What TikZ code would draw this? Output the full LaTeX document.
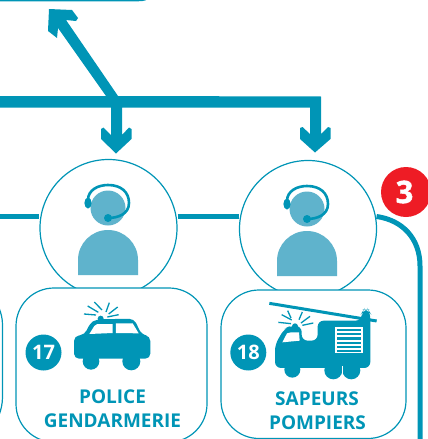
\documentclass[tikz,border=0pt]{standalone}
\usepackage{fontspec}
\setmainfont{Open Sans}
\newfontfamily\heavy[FakeBold=1.5,UprightFont=* Bold]{Open Sans}
\definecolor{teal1}{HTML}{0095B6}
\definecolor{pale}{HTML}{5FB3CC}
\definecolor{red3}{HTML}{EE1C25}
\tikzset{
  ring/.style={draw=teal1,line width=1.2pt,fill=white,circle,minimum size=137pt,inner sep=0pt},
  card/.style={draw=teal1,line width=1.2pt,rounded corners=38pt},
  wire/.style={draw=teal1,line width=5pt},
  badge/.style={circle,fill=teal1,text=white,minimum size=36pt,inner sep=0pt,font=\fontsize{20}{20}\selectfont\bfseries},
  cap3/.style={text=teal1,anchor=base,inner sep=0pt,font=\fontsize{19}{19}\selectfont\bfseries},
  ray/.style={draw=teal1,line width=1.3pt},
  head/.style={draw=teal1,line width=2.6pt,line cap=round}
}
\newcommand{\agent}[2]{%
 \begin{scope}[shift={(#1,#2)}]
  \fill[pale] (0,-20) circle (17.5);
  \fill[pale] (-30,47) -- (-30,32) arc[start angle=180,end angle=0,x radius=30,y radius=-30] -- (30,47) -- cycle;
  \draw[head] (-20,-28) .. controls (-20,-38) and (-10,-43) .. (0,-43) .. controls (13,-43) and (21,-36) .. (21,-25) .. controls (21,-14) and (10,-10) .. (0,-10);
  \fill[teal1] (-20,-25) ellipse (3.6 and 5.5);
  \fill[teal1] (0,-10) circle (4);
 \end{scope}}
\begin{document}
\begin{tikzpicture}[x=1pt,y=-1pt]
\useasboundingbox (0,0) rectangle (428,439);
% top card edge
\draw[teal1,line width=1.4pt] (0,0.6) -- (138,0.6) .. controls (141,0.6) and (144,0.3) .. (146,-0.5);
% partial card at left
\draw[teal1,line width=1.2pt] (-1,308) .. controls (1,313) and (2.5,318) .. (2.5,325) -- (2.5,397) .. controls (2.5,404) and (1,410) .. (-1,415);
% wires
\coordinate (wl) at (-2,216.5);
\node[ring] (c1) at (108.5,228) {};
\node[ring] (c2) at (308,229) {};
\draw[wire] (wl) -- (c1.west |- wl);
\draw[wire] (c1.east |- wl) -- (c2.west |- wl);
\draw[wire] (376.5,216.5) .. controls (402,220) and (420,238) .. (420,266) -- (420,441);
% arrows
\fill[teal1] (-1,96) -- (106,96) -- (58,28) -- (57,38) -- (48,31) -- (49,9) -- (72,10) -- (78,18) -- (76,21) -- (66,20) -- (118,96) -- (321,96.5) -- (321,134) -- (328,127) -- (330.5,128) -- (330.5,139) -- (315,152.5) -- (300,139) -- (300,128) -- (302.5,127) -- (310,134) -- (310,107.5) -- (122,107.5) -- (122,135) -- (129,127.5) -- (131.5,129) -- (131.5,139) -- (116,153.5) -- (101,139) -- (101,129) -- (103.5,127.5) -- (111,135) -- (111,107.5) -- (-1,107.5) -- cycle;
\agent{108}{228}
\agent{307}{229}
% cards
\node[circle,fill=red3,minimum size=50pt,inner sep=0pt] (n3) at (406,192) {};
\node[text=white,inner sep=0pt,font=\fontsize{31}{31}\selectfont\heavy] (n3t) at (404.5,192) {3};
\draw[card,fill=white] (16,288) rectangle (207,442);
\draw[card,fill=white] (221,290) rectangle (406,438.5);
\node[badge] (b17) at (43.5,352.5) {17};
\node[badge] (b18) at (248.3,352.5) {18};
\node[cap3] (t1) at (112.5,403) {POLICE};
\node[cap3] (t2) at (112.5,427) {GENDARMERIE};
\node[cap3] (t3) at (317,405) {SAPEURS};
\node[cap3] (t4) at (317.5,429) {POMPIERS};
% car
\begin{scope}[shift={(70,298)},x=0.3333pt,y=-0.3333pt]
 \fill[teal1,rounded corners=5pt] (12,114) -- (45,110) -- (58,78) -- (78,64) -- (192,62) -- (215,110) -- (241,114) -- (241,182) -- (12,182) -- cycle;
 \fill[teal1] (63,190) circle (25) (184,190) circle (27) (92,62) circle (9);
 \fill[white] (58,108) -- (73,84) -- (82,78) -- (128,78) -- (128,105) -- cycle;
 \fill[white] (138,76) -- (188,76) -- (206,106) -- (138,105) -- cycle;
 \draw[ray] (78,51) -- (42,48) (85,43) -- (53,24) (96,36) -- (73,12) (108,42) -- (118,14) (116,48) -- (143,27) (112,57) -- (146,50);
\end{scope}
% truck
\begin{scope}[shift={(265,298)},x=0.3333pt,y=-0.3333pt]
 \fill[teal1,rounded corners=6pt] (158,68) -- (290,68) -- (290,45) -- (296,35) -- (310,35) -- (316,45) -- (316,210) -- (30,210) -- (30,140) -- (58,92) -- (75,84) -- (110,84) -- (110,128) -- (158,128) -- cycle;
 \draw[teal1,line width=3pt] (13,16) -- (335,69);
 \fill[teal1] (82,215) circle (24) (205,217) circle (27) (259,217) circle (27) (90,85) circle (9);
 \draw[white,line width=0.7pt] (232,205) -- (232,245);
 \fill[white] (52,133) -- (66,106) -- (78,103) -- (102,103) -- (104,128) -- cycle;
 \fill[white] (211,86) rectangle (293,164);
 \foreach \yy in {92,105,118,131,144,155}{\fill[teal1] (215,\yy) rectangle (289,\yy+7);}
 \draw[ray] (78,77) -- (40,73) (80,66) -- (50,50) (78,60) -- (68,38) (102,65) -- (112,42) (108,75) -- (135,55) (112,82) -- (145,75);
\end{scope}
\end{tikzpicture}
\end{document}
